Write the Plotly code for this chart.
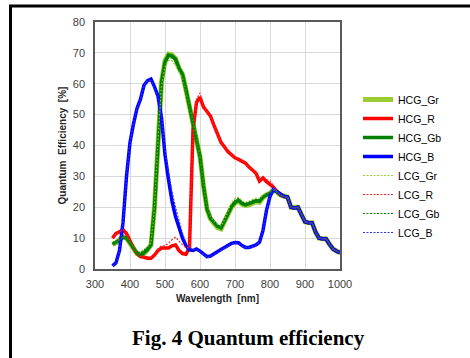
import plotly.graph_objects as go

wavelength = list(range(350, 1001, 10))

tail = [25.0, 24.0, 23.5, 23.3, 20.0, 19.8, 20.0, 17.5, 15.3, 15.0, 15.0, 12.0,
        10.0, 9.8, 9.8, 8.0, 6.5, 5.8, 5.3]  # 820..1000

hcg_gb = [8.0, 8.5, 9.3, 10.3, 10.0, 8.5, 6.8, 5.2, 4.5, 5.2, 6.3, 7.8,
          20.0, 42.0, 60.5, 67.0, 69.3, 69.0, 68.0, 65.0, 63.0, 58.0, 52.6, 48.5,
          43.0, 36.4, 27.0, 19.5, 16.5, 15.0, 13.8, 13.3, 15.5, 18.0, 20.2, 21.5,
          22.3, 21.2, 20.8, 21.2, 21.8, 22.1, 22.0, 23.3, 24.0, 24.5, 25.5] + tail
hcg_gr = [8.0, 8.5, 9.5, 10.5, 10.0, 8.3, 6.6, 5.0, 4.4, 5.0, 6.2, 7.8,
          20.0, 42.0, 60.5, 67.5, 69.6, 69.3, 68.2, 65.0, 63.0, 58.0, 52.6, 48.5,
          43.0, 36.4, 27.0, 19.3, 16.2, 14.6, 13.4, 13.0, 15.2, 17.8, 20.0, 21.3,
          22.0, 21.0, 20.5, 20.8, 21.5, 21.8, 21.6, 23.2, 24.0, 24.5, 25.5] + tail
hcg_r = [10.0, 11.5, 12.0, 12.8, 11.5, 9.0, 6.8, 5.0, 4.0, 3.8, 3.5, 3.5,
         4.5, 6.0, 6.8, 6.8, 6.8, 7.5, 7.8, 6.0, 5.0, 4.8, 7.0, 45.0,
         54.0, 55.6, 52.5, 51.0, 49.5, 46.5, 43.5, 41.0, 39.5, 38.0, 37.0, 36.0,
         35.5, 34.8, 34.3, 33.0, 32.0, 31.0, 28.5, 29.5, 28.3, 27.5, 26.5] + tail
hcg_b = [1.0, 2.0, 6.0, 15.0, 30.0, 41.0, 47.0, 52.0, 55.0, 59.5, 61.0, 61.5,
         59.0, 56.0, 49.0, 37.0, 29.0, 22.0, 17.0, 13.5, 10.0, 7.5, 6.2, 6.0,
         6.5, 5.8, 4.8, 4.0, 4.2, 4.8, 5.5, 6.3, 7.0, 7.7, 8.3, 8.6,
         8.5, 7.6, 7.0, 7.0, 7.3, 7.8, 8.7, 12.5, 19.0, 23.5, 25.8] + tail

lcg_gr = [8.0, 8.5, 9.5, 10.5, 10.0, 8.5, 7.0, 5.8, 5.5, 6.3, 7.2, 8.5,
          20.0, 42.0, 59.5, 65.5, 67.5, 67.5, 66.0, 64.0, 62.0, 57.5, 52.5, 48.5,
          43.0, 36.4, 27.5, 20.0, 17.0, 15.5, 14.5, 14.0, 16.0, 19.0, 21.5, 22.8,
          23.3, 22.0, 21.5, 22.0, 22.5, 23.0, 22.8, 24.0, 24.5, 25.0, 25.8] + tail
lcg_r = [10.0, 11.5, 12.0, 12.8, 11.5, 9.0, 6.8, 5.2, 4.2, 4.0, 3.8, 3.8,
         5.0, 6.5, 7.5, 7.5, 8.3, 9.5, 10.3, 9.0, 7.8, 7.0, 6.8, 43.0,
         55.0, 57.0, 53.0, 51.0, 49.5, 46.5, 43.5, 41.0, 39.5, 38.0, 37.0, 36.0,
         35.5, 34.8, 34.3, 33.0, 32.0, 31.0, 29.0, 30.0, 29.0, 28.5, 27.0] + tail
lcg_gb = [8.0, 8.5, 9.5, 10.5, 10.0, 8.5, 7.0, 5.6, 5.2, 6.0, 7.0, 8.2,
          20.0, 42.0, 60.0, 66.5, 68.5, 68.3, 67.5, 64.5, 62.5, 57.8, 52.6, 48.5,
          43.0, 36.4, 27.2, 19.8, 16.8, 15.2, 14.2, 13.8, 15.8, 18.5, 20.8, 22.2,
          22.8, 21.6, 21.2, 21.6, 22.2, 22.5, 22.4, 23.6, 24.2, 24.8, 25.6] + tail
lcg_b = [1.0, 2.0, 6.0, 15.0, 30.0, 41.0, 47.0, 52.0, 55.0, 59.5, 61.0, 61.0,
         58.5, 56.0, 49.5, 38.5, 31.5, 25.0, 20.0, 15.5, 11.5, 8.5, 7.0, 6.3,
         6.5, 5.6, 4.6, 3.8, 4.0, 4.6, 5.3, 6.1, 6.8, 7.5, 8.1, 8.4,
         8.3, 7.4, 6.9, 6.9, 7.2, 7.7, 8.6, 12.5, 19.0, 23.5, 25.8] + tail

names = ["HCG_Gr", "HCG_R", "HCG_Gb", "HCG_B", "LCG_Gr", "LCG_R", "LCG_Gb", "LCG_B"]
series = [hcg_gr, hcg_r, hcg_gb, hcg_b, lcg_gr, lcg_r, lcg_gb, lcg_b]
colors = ["#9acd32", "#ff0000", "#008000", "#0000ff",
          "#9acd32", "#ff2020", "#008000", "#3030ff"]
widths = [5, 3.5, 3.5, 3.5, 1.2, 1.2, 1.2, 1.2]
dashes = ["solid"] * 4 + ["2px,1.5px"] * 4

fig = go.Figure()
for n, s, c, w, d in zip(names, series, colors, widths, dashes):
    fig.add_trace(go.Scatter(x=wavelength, y=s, mode="lines", name=n,
                             line=dict(color=c, width=w, dash=d)))

W, H = 470, 358
L, R, T, B = 95, 130, 22, 89
pw, ph = W - L - R, H - T - B

def px(x):
    return (x - L) / pw

def py(y):
    return (H - B - y) / ph

font_axis = dict(family="Liberation Sans, Arial", size=11, color="#404040")

fig.update_layout(
    width=W, height=H, autosize=False,
    margin=dict(l=L, r=R, t=T, b=B),
    paper_bgcolor="white", plot_bgcolor="white",
    showlegend=True,
    legend=dict(x=px(358), y=py(85), xanchor="left", yanchor="top",
                font=dict(family="Liberation Sans, Arial", size=10.5, color="black"),
                bgcolor="rgba(0,0,0,0)", tracegroupgap=0),
    xaxis=dict(range=[300, 1000], dtick=100, tick0=300, showgrid=True,
               gridcolor="#d9d9d9", gridwidth=1, showline=True,
               linecolor="#595959", linewidth=1.5, mirror=True,
               ticks="outside", ticklen=4, tickcolor="rgba(0,0,0,0)",
               tickfont=font_axis, zeroline=False,
               title=dict(text="<b>Wavelength  [nm]</b>",
                          font=dict(family="Liberation Sans, Arial", size=10, color="#262626"),
                          standoff=6)),
    yaxis=dict(range=[0, 80], dtick=10, showgrid=True,
               gridcolor="#d9d9d9", gridwidth=1, showline=True,
               linecolor="#595959", linewidth=1.5, mirror=True,
               ticks="outside", ticklen=6, tickcolor="rgba(0,0,0,0)",
               tickfont=font_axis, zeroline=False,
               title=dict(text="<b>Quantum  Efficiency  [%]</b>",
                          font=dict(family="Liberation Sans, Arial", size=10, color="#262626"),
                          standoff=4)),
    annotations=[dict(text="<b>Fig. 4 Quantum efficiency</b>", xref="paper", yref="paper",
                      x=px(248), y=py(338), xanchor="center", yanchor="middle",
                      showarrow=False,
                      font=dict(family="Liberation Serif, Times New Roman", size=21, color="black"))],
    shapes=[
        dict(type="line", xref="paper", yref="paper", x0=px(10.5), y0=py(360),
             x1=px(10.5), y1=py(6), line=dict(color="black", width=3)),
        dict(type="line", xref="paper", yref="paper", x0=px(9), y0=py(6),
             x1=px(475), y1=py(6), line=dict(color="black", width=3)),
    ],
)

fig.write_html("out.html", config={"displayModeBar": False},
               post_script="document.body.style.margin='0';")
